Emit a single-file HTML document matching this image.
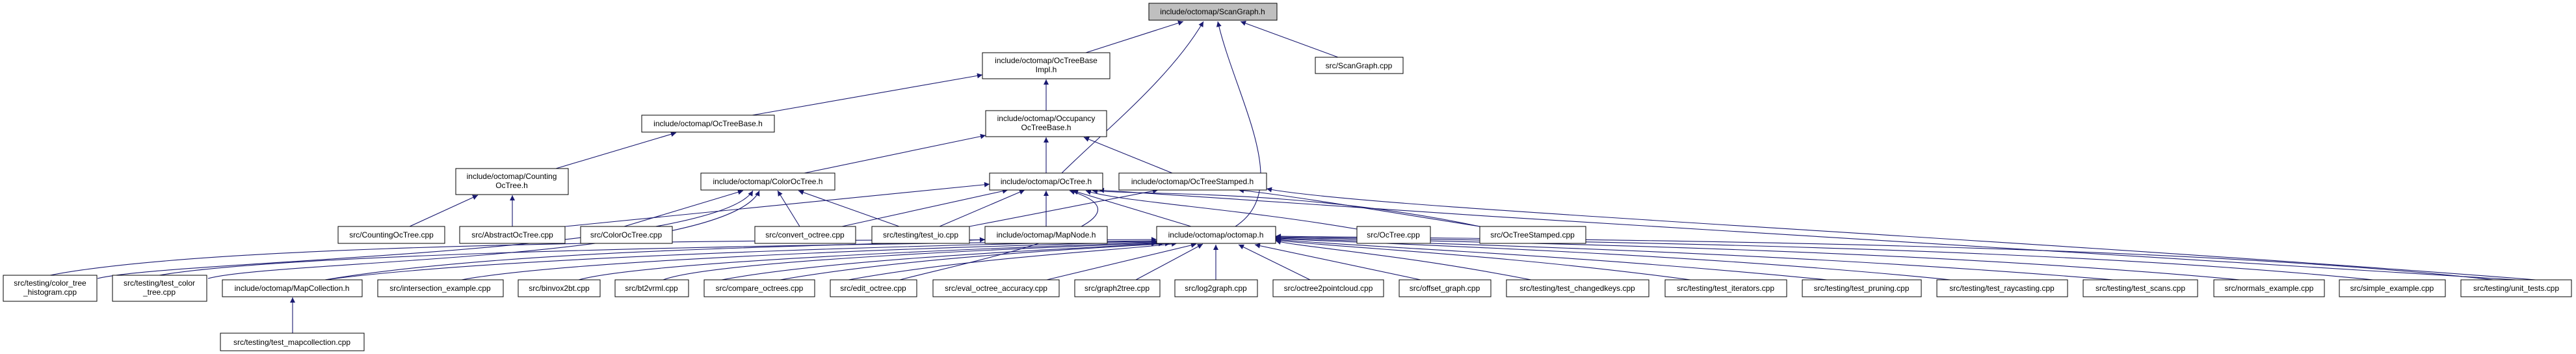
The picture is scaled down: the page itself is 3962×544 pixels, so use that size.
<!DOCTYPE html>
<html><head><meta charset="utf-8"><style>
html,body{margin:0;padding:0;background:#fff;}
svg{display:block;}
text{font-family:"Liberation Sans",Arial,sans-serif;font-size:12px;fill:#000;text-anchor:middle;}
.n{fill:#fff;stroke:#000;stroke-width:1;}
.e{fill:none;stroke:#191970;stroke-width:1.1;}
</style></head><body>
<svg width="3962" height="544" viewBox="0 0 3962 544" xmlns="http://www.w3.org/2000/svg">
<defs><marker id="a" viewBox="0 0 10 10" refX="10" refY="5" markerWidth="10" markerHeight="8" markerUnits="userSpaceOnUse" orient="auto"><path d="M0,0 L10,5 L0,10 z" fill="#191970"/></marker></defs>
<g marker-end="url(#a)">
<path class="e" d="M1670,81 L1820,33"/>
<path class="e" d="M1633,266 C1700,200 1800,120 1851,33"/>
<path class="e" d="M1900,348 C1990,290 1900,150 1873,33"/>
<path class="e" d="M2058,88 L1908,33"/>
<path class="e" d="M1157,177 L1511,115"/>
<path class="e" d="M1609,170 L1609,122"/>
<path class="e" d="M855,259 L1040,204"/>
<path class="e" d="M1237,266 L1516,208"/>
<path class="e" d="M1609,266 L1609,211"/>
<path class="e" d="M1803,266 L1667,211"/>
<path class="e" d="M630,348 L735,300"/>
<path class="e" d="M788,348 L788,300"/>
<path class="e" d="M960,348 L1143,293"/>
<path class="e" d="M150,428 C260,400 1100,390 1158,293"/>
<path class="e" d="M320,428 C420,400 1120,400 1168,293"/>
<path class="e" d="M1230,348 L1196,293"/>
<path class="e" d="M1383,348 L1228,293"/>
<path class="e" d="M869,348 L1522,283"/>
<path class="e" d="M1295,348 L1550,292"/>
<path class="e" d="M1445,348 L1576,292"/>
<path class="e" d="M1609,348 L1609,293"/>
<path class="e" d="M1832,348 L1650,293"/>
<path class="e" d="M2087,352 C1900,320 1720,310 1670,293"/>
<path class="e" d="M2276,348 C2000,290 1750,300 1680,293"/>
<path class="e" d="M1384,430 C1500,400 1800,340 1645,293"/>
<path class="e" d="M3870,430 C3000,380 2400,340 1690,292"/>
<path class="e" d="M1491,348 L1781,292"/>
<path class="e" d="M2276,348 C2100,320 1980,300 1905,292"/>
<path class="e" d="M3900,430 C3000,360 2100,320 1948,290"/>
<path class="e" d="M500,430 C800,380 1300,380 1515,368"/>
<path class="e" d="M77,423 C400,360 1600,370 1779,368"/>
<path class="e" d="M245,423 C500,380 1600,372 1779,370"/>
<path class="e" d="M500,430 C800,390 1600,372 1779,371"/>
<path class="e" d="M710,430 C900,395 1600,375 1779,372"/>
<path class="e" d="M890,430 C1000,400 1600,378 1779,373"/>
<path class="e" d="M1020,430 C1100,400 1600,380 1779,374"/>
<path class="e" d="M1110,430 C1300,395 1700,380 1790,374"/>
<path class="e" d="M1200,430 C1400,395 1700,380 1800,374"/>
<path class="e" d="M1305,430 C1500,395 1720,385 1810,374"/>
<path class="e" d="M1610,430 L1840,375"/>
<path class="e" d="M1747,430 L1850,375"/>
<path class="e" d="M1870,430 L1870,376"/>
<path class="e" d="M2015,430 L1905,376"/>
<path class="e" d="M2185,430 L1930,376"/>
<path class="e" d="M2355,430 C2150,390 2000,380 1962,370"/>
<path class="e" d="M2600,430 C2300,390 2050,380 1962,369"/>
<path class="e" d="M2810,430 C2400,390 2100,380 1962,368"/>
<path class="e" d="M3000,430 C2600,390 2150,375 1962,367"/>
<path class="e" d="M3250,430 C2700,385 2200,375 1962,366"/>
<path class="e" d="M3445,430 C2900,380 2250,372 1962,365"/>
<path class="e" d="M3650,430 C3100,375 2300,370 1962,364"/>
<path class="e" d="M3835,430 C3300,370 2350,368 1962,363"/>
<path class="e" d="M450,512 L450,457"/>
</g>
<rect x="1767" y="5" width="197" height="26" fill="#bfbfbf" stroke="#000"/><text x="1865" y="22">include/octomap/ScanGraph.h</text>
<rect class="n" x="1511" y="81" width="196" height="40"/><text x="1609" y="97">include/octomap/OcTreeBase</text><text x="1609" y="111">Impl.h</text>
<rect class="n" x="2023" y="88" width="135" height="25"/><text x="2090" y="105">src/ScanGraph.cpp</text>
<rect class="n" x="987" y="177" width="204" height="26"/><text x="1089" y="194">include/octomap/OcTreeBase.h</text>
<rect class="n" x="1516" y="170" width="186" height="40"/><text x="1609" y="186">include/octomap/Occupancy</text><text x="1609" y="200">OcTreeBase.h</text>
<rect class="n" x="701" y="259" width="173" height="40"/><text x="787" y="275">include/octomap/Counting</text><text x="787" y="289">OcTree.h</text>
<rect class="n" x="1078" y="266" width="206" height="26"/><text x="1181" y="283">include/octomap/ColorOcTree.h</text>
<rect class="n" x="1522" y="266" width="174" height="26"/><text x="1609" y="283">include/octomap/OcTree.h</text>
<rect class="n" x="1721" y="266" width="227" height="26"/><text x="1834" y="283">include/octomap/OcTreeStamped.h</text>
<rect class="n" x="520" y="348" width="164" height="26"/><text x="602" y="365">src/CountingOcTree.cpp</text>
<rect class="n" x="707" y="348" width="162" height="26"/><text x="788" y="365">src/AbstractOcTree.cpp</text>
<rect class="n" x="893" y="348" width="141" height="26"/><text x="963" y="365">src/ColorOcTree.cpp</text>
<rect class="n" x="1161" y="348" width="155" height="26"/><text x="1238" y="365">src/convert_octree.cpp</text>
<rect class="n" x="1341" y="348" width="150" height="26"/><text x="1416" y="365">src/testing/test_io.cpp</text>
<rect class="n" x="1515" y="348" width="188" height="26"/><text x="1609" y="365">include/octomap/MapNode.h</text>
<rect class="n" x="1779" y="348" width="183" height="26"/><text x="1870" y="365">include/octomap/octomap.h</text>
<rect class="n" x="2087" y="348" width="113" height="26"/><text x="2143" y="365">src/OcTree.cpp</text>
<rect class="n" x="2276" y="348" width="163" height="26"/><text x="2357" y="365">src/OcTreeStamped.cpp</text>
<rect class="n" x="5" y="423" width="144" height="40"/><text x="77" y="439">src/testing/color_tree</text><text x="77" y="453">_histogram.cpp</text>
<rect class="n" x="173" y="423" width="145" height="40"/><text x="245" y="439">src/testing/test_color</text><text x="245" y="453">_tree.cpp</text>
<rect class="n" x="342" y="430" width="215" height="26"/><text x="449" y="447">include/octomap/MapCollection.h</text>
<rect class="n" x="581" y="430" width="193" height="26"/><text x="677" y="447">src/intersection_example.cpp</text>
<rect class="n" x="797" y="430" width="126" height="26"/><text x="860" y="447">src/binvox2bt.cpp</text>
<rect class="n" x="946" y="430" width="113" height="26"/><text x="1002" y="447">src/bt2vrml.cpp</text>
<rect class="n" x="1083" y="430" width="170" height="26"/><text x="1168" y="447">src/compare_octrees.cpp</text>
<rect class="n" x="1277" y="430" width="133" height="26"/><text x="1343" y="447">src/edit_octree.cpp</text>
<rect class="n" x="1435" y="430" width="194" height="26"/><text x="1532" y="447">src/eval_octree_accuracy.cpp</text>
<rect class="n" x="1653" y="430" width="131" height="26"/><text x="1718" y="447">src/graph2tree.cpp</text>
<rect class="n" x="1807" y="430" width="127" height="26"/><text x="1870" y="447">src/log2graph.cpp</text>
<rect class="n" x="1958" y="430" width="170" height="26"/><text x="2043" y="447">src/octree2pointcloud.cpp</text>
<rect class="n" x="2152" y="430" width="141" height="26"/><text x="2222" y="447">src/offset_graph.cpp</text>
<rect class="n" x="2317" y="430" width="219" height="26"/><text x="2426" y="447">src/testing/test_changedkeys.cpp</text>
<rect class="n" x="2561" y="430" width="187" height="26"/><text x="2654" y="447">src/testing/test_iterators.cpp</text>
<rect class="n" x="2772" y="430" width="183" height="26"/><text x="2863" y="447">src/testing/test_pruning.cpp</text>
<rect class="n" x="2979" y="430" width="201" height="26"/><text x="3079" y="447">src/testing/test_raycasting.cpp</text>
<rect class="n" x="3204" y="430" width="176" height="26"/><text x="3292" y="447">src/testing/test_scans.cpp</text>
<rect class="n" x="3405" y="430" width="170" height="26"/><text x="3490" y="447">src/normals_example.cpp</text>
<rect class="n" x="3598" y="430" width="163" height="26"/><text x="3679" y="447">src/simple_example.cpp</text>
<rect class="n" x="3785" y="430" width="170" height="26"/><text x="3870" y="447">src/testing/unit_tests.cpp</text>
<rect class="n" x="339" y="512" width="221" height="27"/><text x="449" y="530">src/testing/test_mapcollection.cpp</text>
</svg>
</body></html>
